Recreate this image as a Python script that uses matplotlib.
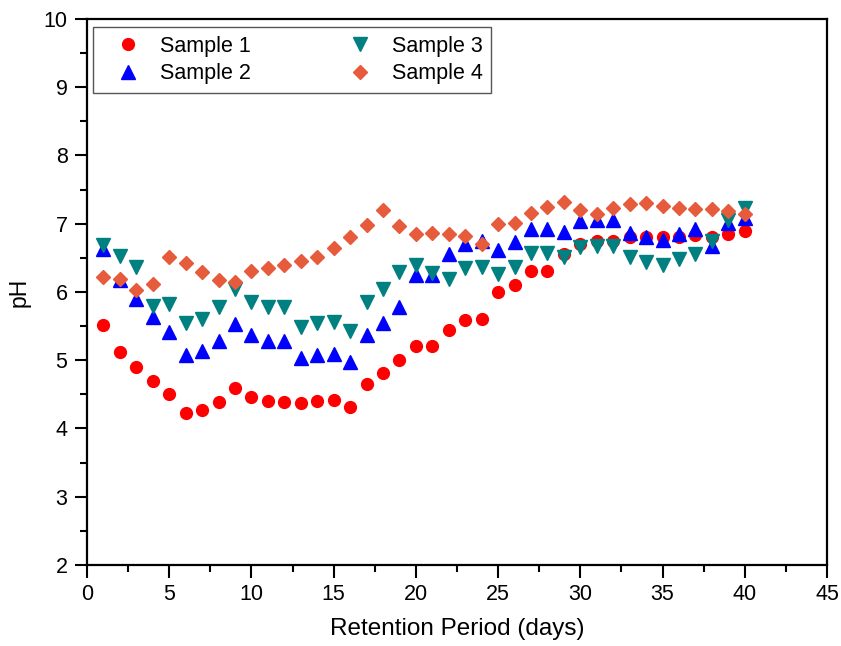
import matplotlib
matplotlib.use('Agg')
import matplotlib.pyplot as plt
from matplotlib.ticker import MultipleLocator

plt.rcParams['font.family'] = ['Liberation Sans', 'DejaVu Sans']

# Datos
days = list(range(1, 41))
sample_1 = [5.52, 5.12, 4.90, 4.69, 4.51, 4.23, 4.27, 4.39, 4.60, 4.46,
            4.40, 4.39, 4.37, 4.41, 4.42, 4.31, 4.65, 4.82, 5.00, 5.21,
            5.21, 5.45, 5.59, 5.61, 6.00, 6.10, 6.31, 6.31, 6.56, 6.70,
            6.74, 6.74, 6.80, 6.80, 6.81, 6.80, 6.84, 6.81, 6.85, 6.90]
sample_2 = [6.63, 6.18, 5.89, 5.64, 5.42, 5.08, 5.13, 5.28, 5.53, 5.37,
            5.28, 5.28, 5.03, 5.08, 5.09, 4.97, 5.37, 5.55, 5.78, 6.25,
            6.25, 6.56, 6.71, 6.75, 6.62, 6.73, 6.93, 6.93, 6.88, 7.04,
            7.05, 7.05, 6.87, 6.81, 6.76, 6.85, 6.92, 6.68, 7.01, 7.09]
sample_3 = [6.69, 6.53, 6.36, 5.79, 5.83, 5.55, 5.60, 5.78, 6.05, 5.86,
            5.78, 5.78, 5.49, 5.54, 5.56, 5.43, 5.86, 6.05, 6.29, 6.40,
            6.28, 6.19, 6.35, 6.37, 6.26, 6.36, 6.57, 6.57, 6.52, 6.66,
            6.68, 6.68, 6.51, 6.44, 6.40, 6.48, 6.56, 6.74, 7.05, 7.23]
sample_4 = [6.22, 6.19, 6.03, 6.12, 6.51, 6.42, 6.29, 6.17, 6.15, 6.31,
            6.35, 6.39, 6.45, 6.51, 6.64, 6.80, 6.98, 7.20, 6.97, 6.85,
            6.86, 6.85, 6.82, 6.70, 7.00, 7.01, 7.16, 7.24, 7.32, 7.20,
            7.14, 7.23, 7.29, 7.30, 7.26, 7.23, 7.22, 7.21, 7.18, 7.15]

labels = ['Sample 1', 'Sample 2', 'Sample 3', 'Sample 4']

# Crea la figura
fig = plt.figure(figsize=(8.41, 6.46), dpi=100)
ax = fig.add_axes([0.1034, 0.1254, 0.88, 0.8452])

ax.plot(days, sample_1, 'o', color='#ff0000', markersize=8.5, label=labels[0])
ax.plot(days, sample_2, '^', color='#0000ff', markersize=9.5, label=labels[1])
ax.plot(days, sample_3, 'v', color='#008080', markersize=9.5, label=labels[2])
ax.plot(days, sample_4, 'D', color='#e55b3c', markersize=7.5, label=labels[3])

# Ejes
ax.set_xlim(0, 45)
ax.set_ylim(2, 10)
ax.xaxis.set_major_locator(MultipleLocator(5))
ax.xaxis.set_minor_locator(MultipleLocator(2.5))
ax.yaxis.set_major_locator(MultipleLocator(1))
ax.yaxis.set_minor_locator(MultipleLocator(0.5))
ax.tick_params(which='major', direction='out', length=9, width=1.5,
               labelsize=15.5, top=False, right=False, pad=5)
ax.tick_params(which='minor', direction='out', length=5, width=1.5,
               top=False, right=False)
for spine in ax.spines.values():
    spine.set_linewidth(1.6)

ax.set_xlabel('Retention Period (days)', fontsize=17.5, labelpad=9)
ax.set_ylabel('pH', fontsize=16.5, labelpad=9)

leg = ax.legend(ncol=2, loc='upper left', fontsize=15.5, frameon=True,
                fancybox=False, edgecolor='#555555', framealpha=1,
                bbox_to_anchor=(0.008, 0.985), borderaxespad=0,
                handletextpad=0.26, columnspacing=3.85, labelspacing=0.3,
                borderpad=0.4, handlelength=2.45)
leg.get_frame().set_linewidth(1.0)

fig.savefig('out.png', dpi=100)
